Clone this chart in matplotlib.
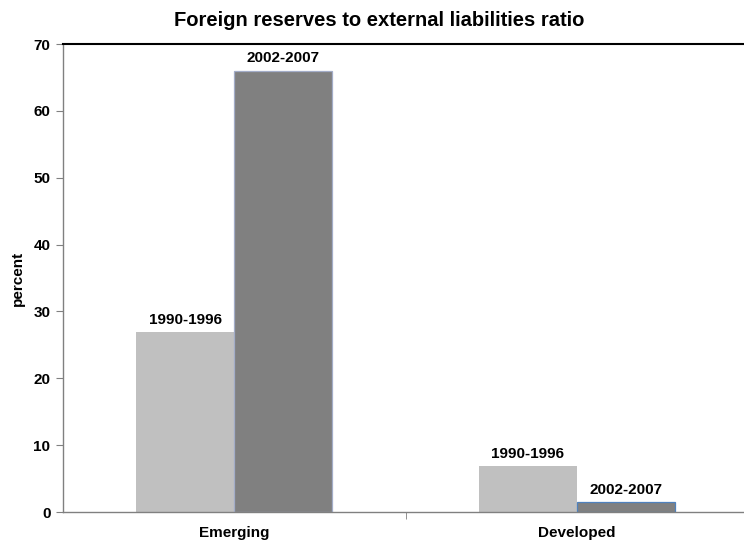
import matplotlib
matplotlib.use("Agg")
import matplotlib.pyplot as plt
import numpy as np

plt.rcParams['font.family'] = ['Liberation Sans', 'DejaVu Sans']

categories = ["Emerging", "Developed"]
periods = ["1990-1996", "2002-2007"]
values_1990_1996 = [26.9, 6.9]
values_2002_2007 = [66.0, 1.5]
y_ticks = [0, 10, 20, 30, 40, 50, 60, 70]

fig = plt.figure(figsize=(7.44, 5.45), dpi=100)
W, H = 744, 545
left, right, top, bottom = 63, 744, 44, 512
ax = fig.add_axes([left / W, 1 - bottom / H, (right - left) / W, (bottom - top) / H])

x = np.arange(len(categories))
bw = 0.286
b1 = ax.bar(x - bw / 2, values_1990_1996, width=bw, color="#c0c0c0", edgecolor="none")
b2 = ax.bar(x + bw / 2, values_2002_2007, width=bw, color="#808080",
            edgecolor=["#a3adc8", "#4f81bd"], linewidth=0.9)

for bars, lab in ((b1, periods[0]), (b2, periods[1])):
    for r in bars:
        ax.text(r.get_x() + r.get_width() / 2, r.get_height() + 0.8, lab,
                ha="center", va="bottom", fontsize=11, fontweight="bold")

ax.set_ylim(0, 70)
ax.set_xlim(-0.5, 1.5 - 4 / 342)
ax.set_yticks(y_ticks)
ax.set_yticklabels([str(t) for t in y_ticks], fontsize=11, fontweight="bold")

ax.set_xticks(x)
ax.set_xticklabels(categories, fontsize=11, fontweight="bold")
ax.tick_params(axis="x", length=0, pad=10)
ax.set_xticks([0.5], minor=True)
ax.tick_params(axis="x", which="minor", length=5, color="#808080", direction="out")
ax.tick_params(axis="y", length=5, color="#808080", direction="out", pad=4)

for s in ("left", "bottom"):
    ax.spines[s].set_color("#808080")
    ax.spines[s].set_linewidth(1.0)
ax.spines["right"].set_visible(False)
ax.spines["top"].set_color("black")
ax.spines["top"].set_linewidth(1.5)

ax.set_ylabel("percent", fontsize=11, fontweight="bold", labelpad=6)
fig.text(379 / W, 1 - 20 / H, "Foreign reserves to external liabilities ratio",
         ha="center", va="center", fontsize=14.5, fontweight="bold")

fig.savefig("out.png", dpi=100)
